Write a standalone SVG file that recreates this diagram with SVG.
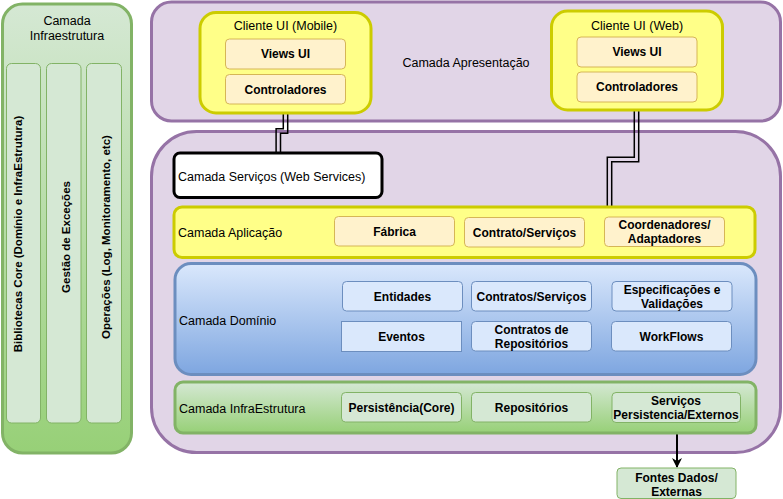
<svg xmlns="http://www.w3.org/2000/svg" width="783" height="499" viewBox="0 0 783 499">
<defs>
<linearGradient id="gGreen" x1="0" y1="0" x2="0" y2="1"><stop offset="0" stop-color="#d5e8d4"/><stop offset="1" stop-color="#97d077"/></linearGradient>
<linearGradient id="gBlue" x1="0" y1="0" x2="0" y2="1"><stop offset="0" stop-color="#dae8fc"/><stop offset="1" stop-color="#7ea6e0"/></linearGradient>
<marker id="arr" markerWidth="10" markerHeight="10" refX="9" refY="5" orient="auto" markerUnits="userSpaceOnUse"><path d="M0,0 L10,5 L0,10 L3,5 Z" fill="#000"/></marker>
<style>
text{font-family:"Liberation Sans",Arial,Helvetica,sans-serif;font-size:12.5px;fill:#000}
.b{font-weight:bold;font-size:12px}
.c{text-anchor:middle}
.purple{fill:#e1d5e7;stroke:#9673a6;stroke-width:3}
.yellow{fill:#ffff88;stroke:#cccc00;stroke-width:3}
.orange{fill:#fff2cc;stroke:#d6b656;stroke-width:1}
.blue{fill:#dae8fc;stroke:#6c8ebf;stroke-width:1}
.green{fill:#d5e8d4;stroke:#82b366;stroke-width:1}
.link{fill:none;stroke:#000;stroke-width:1.5}
.vt{font-size:11.5px;font-weight:bold;text-anchor:middle}
</style>
</defs>

<g id="infra-left">
<rect x="2.5" y="4" width="129" height="449" rx="20" fill="url(#gGreen)" stroke="#82b366" stroke-width="3"/>
<text class="c" x="67" y="24.5">Camada</text>
<text class="c" x="67" y="39.5">Infraestrutura</text>
<rect x="6.5" y="63.5" width="34" height="359.5" rx="5" class="green"/>
<rect x="46.5" y="63.5" width="34.5" height="359.5" rx="5" class="green"/>
<rect x="86.5" y="63.5" width="35" height="359.5" rx="5" class="green"/>
<text class="vt" transform="translate(21.5,234) rotate(-90)">Bibliotecas Core (Domínio e InfraEstrutura)</text>
<text class="vt" transform="translate(70,237) rotate(-90)">Gestão de Exceções</text>
<text class="vt" transform="translate(109.5,237) rotate(-90)">Operações (Log, Monitoramento, etc)</text>
</g>

<g id="camada-apresentacao">
<rect x="151.5" y="2" width="629" height="119" rx="20" class="purple"/>
<text class="c" x="466" y="66.5">Camada Apresentação</text>
</g>

<g id="camada-inferior">
<rect x="151.5" y="131.5" width="629" height="321" rx="45" class="purple"/>
</g>

<g id="connectors">
<polyline class="link" points="283.3,113 283.3,128.8 276.1,128.8 276.1,153"/>
<polyline class="link" points="287.7,113 287.7,133.2 280.5,133.2 280.5,153"/>
<polyline class="link" points="634.3,110 634.3,157.3 607.3,157.3 607.3,207"/>
<polyline class="link" points="638.7,110 638.7,161.7 611.7,161.7 611.7,207"/>
<line x1="677" y1="423" x2="677" y2="467" stroke="#000" stroke-width="2" marker-end="url(#arr)"/>
</g>

<g id="cliente-mobile">
<rect x="200" y="12.5" width="171" height="100.5" rx="16" class="yellow"/>
<text class="c" x="285.5" y="29.5">Cliente UI (Mobile)</text>
<rect x="225.5" y="39" width="120" height="30" rx="4" class="orange"/>
<text class="c b" x="285.5" y="58">Views UI</text>
<rect x="225.5" y="74.5" width="120" height="29.5" rx="4" class="orange"/>
<text class="c b" x="285.5" y="93.5">Controladores</text>
</g>

<g id="cliente-web">
<rect x="551.5" y="11" width="171" height="99" rx="16" class="yellow"/>
<text class="c" x="637" y="29.5">Cliente UI (Web)</text>
<rect x="577" y="37" width="120" height="30" rx="4" class="orange"/>
<text class="c b" x="637" y="56">Views UI</text>
<rect x="577" y="72" width="120" height="30" rx="4" class="orange"/>
<text class="c b" x="637" y="91">Controladores</text>
</g>

<g id="camada-servicos">
<rect x="174" y="153" width="208" height="44.5" rx="6" fill="#ffffff" stroke="#000" stroke-width="3"/>
<text x="178" y="180.5">Camada Serviços (Web Services)</text>
</g>

<g id="camada-aplicacao">
<rect x="174" y="207" width="581" height="50.5" rx="8" class="yellow"/>
<text x="178" y="237">Camada Aplicação</text>
<rect x="334.5" y="216.5" width="120" height="29.5" rx="4" class="orange"/>
<text class="c b" x="394.5" y="236">Fábrica</text>
<rect x="464.5" y="217.5" width="120" height="29.5" rx="4" class="orange"/>
<text class="c b" x="524.5" y="237">Contrato/Serviços</text>
<rect x="604.5" y="217" width="120" height="29.5" rx="4" class="orange"/>
<text class="c b" x="664.5" y="229">Coordenadores/</text>
<text class="c b" x="664.5" y="243">Adaptadores</text>
</g>

<g id="camada-dominio">
<rect x="175" y="263.5" width="581" height="111" rx="16" fill="url(#gBlue)" stroke="#6c8ebf" stroke-width="3"/>
<text x="179" y="324.5">Camada Domínio</text>
<rect x="342.5" y="281.5" width="120" height="29.5" rx="4" class="blue"/>
<text class="c b" x="402.5" y="300.5">Entidades</text>
<rect x="471.5" y="281.5" width="120" height="29.5" rx="4" class="blue"/>
<text class="c b" x="531.5" y="300.5">Contratos/Serviços</text>
<rect x="612" y="281.5" width="120" height="29.5" rx="4" class="blue"/>
<text class="c b" x="672" y="294">Especificações e</text>
<text class="c b" x="672" y="308">Validações</text>
<rect x="341.5" y="321.5" width="120" height="30" class="blue"/>
<text class="c b" x="401.5" y="340.5">Eventos</text>
<rect x="471.5" y="321.5" width="120" height="29.5" rx="4" class="blue"/>
<text class="c b" x="531.5" y="334">Contratos de</text>
<text class="c b" x="531.5" y="348">Repositórios</text>
<rect x="611.5" y="321.5" width="120" height="29.5" rx="4" class="blue"/>
<text class="c b" x="671.5" y="340.5">WorkFlows</text>
</g>

<g id="camada-infraestrutura">
<rect x="175" y="382" width="581" height="51" rx="8" fill="url(#gGreen)" stroke="#82b366" stroke-width="3"/>
<text x="179" y="412.5">Camada InfraEstrutura</text>
<rect x="341.5" y="392.5" width="120" height="29.5" rx="4" class="green"/>
<text class="c b" x="401.5" y="412">Persistência(Core)</text>
<rect x="471.5" y="392.5" width="120" height="29.5" rx="4" class="green"/>
<text class="c b" x="531.5" y="412">Repositórios</text>
<rect x="612" y="392.5" width="128.5" height="30" rx="4" class="green"/>
<text class="c b" x="676" y="405">Serviços</text>
<text class="c b" x="676" y="419">Persistencia/Externos</text>
</g>

<g id="fontes-dados">
<rect x="617" y="468" width="119" height="30.5" rx="4" class="green"/>
<text class="c b" x="676.5" y="481.5">Fontes Dados/</text>
<text class="c b" x="676.5" y="495.5">Externas</text>
</g>
</svg>
